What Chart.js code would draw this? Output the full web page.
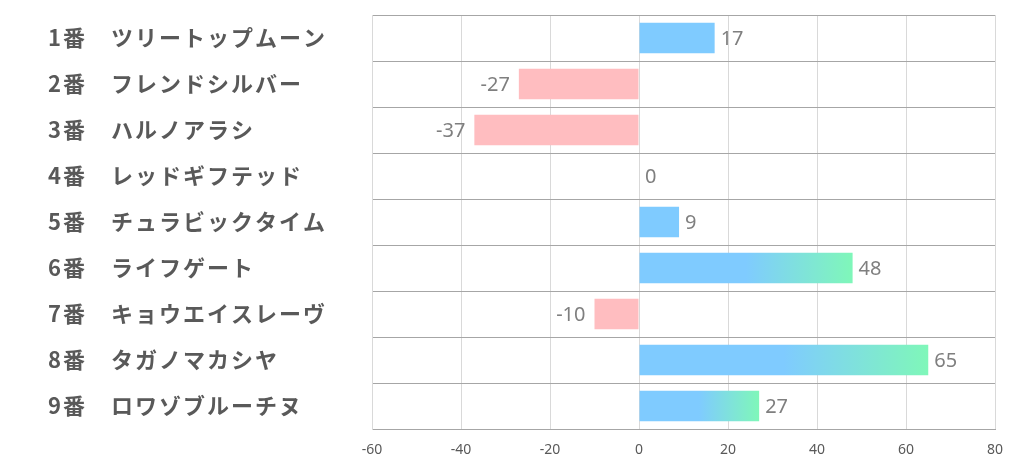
<!DOCTYPE html>
<html>
<head>
<meta charset="utf-8">
<script src="https://cdn.jsdelivr.net/npm/chart.js@4"></script>
<style>
html,body{margin:0;padding:0;background:#fff;}
#wrap{width:1022px;height:470px;}
</style>
</head>
<body>
<div id="wrap"><canvas id="c" width="1022" height="470"></canvas></div>
<script>
const categories = ["1番　ツリートップムーン","2番　フレンドシルバー","3番　ハルノアラシ","4番　レッドギフテッド","5番　チュラビックタイム","6番　ライフゲート","7番　キョウエイスレーヴ","8番　タガノマカシヤ","9番　ロワゾブルーチヌ"];
const values = [17, -27, -37, 0, 9, 48, -10, 65, 27];
const xTicks = [-60, -40, -20, 0, 20, 40, 60, 80];

const BLUE = '#7fcbff', GREEN = '#7ff7b9', PINK = '#ffbdc0';

function barColor(ctx) {
  const v = ctx.raw;
  if (v < 0) return PINK;
  if (v < 20) return BLUE;
  const chart = ctx.chart;
  const xs = chart.scales.x;
  if (!xs) return BLUE;
  const x0 = xs.getPixelForValue(0), x1 = xs.getPixelForValue(v);
  const g = chart.ctx.createLinearGradient(x0, 0, x1, 0);
  g.addColorStop(0, BLUE);
  g.addColorStop(0.5, BLUE);
  g.addColorStop(1, GREEN);
  return g;
}

const spacingPlugin = {
  id: 'yspacing',
  beforeDraw(chart) {
    const ys = chart.scales.y;
    if (ys && !ys._wrapped) {
      const orig = ys.drawLabels;
      ys.drawLabels = function(area) {
        const c = this.ctx;
        c.save();
        c.letterSpacing = '2px';
        orig.call(this, area);
        c.restore();
      };
      ys._wrapped = true;
    }
  }
};

const labelPlugin = {
  id: 'vlabels',
  afterDatasetsDraw(chart) {
    const ctx = chart.ctx;
    const meta = chart.getDatasetMeta(0);
    ctx.save();
    ctx.font = '20px "Noto Sans", "Open Sans", sans-serif';
    ctx.fillStyle = '#7f7f7f';
    ctx.textBaseline = 'middle';
    meta.data.forEach((el, i) => {
      const v = values[i];
      if (v < 0) {
        ctx.textAlign = 'right';
        ctx.fillText(String(v), el.x - 9, el.y + 1);
      } else {
        ctx.textAlign = 'left';
        ctx.fillText(String(v), el.x + 6, el.y + 1);
      }
    });
    ctx.restore();
  }
};

new Chart(document.getElementById('c'), {
  type: 'bar',
  data: {
    labels: categories,
    datasets: [{
      data: values,
      backgroundColor: barColor,
      borderWidth: 0,
      barPercentage: 0.66,
      categoryPercentage: 1
    }]
  },
  options: {
    indexAxis: 'y',
    responsive: false,
    animation: false,
    devicePixelRatio: 1,
    layout: { padding: { top: 15, right: 27, bottom: 0, left: 48 } },
    plugins: { legend: { display: false }, tooltip: { enabled: false } },
    scales: {
      x: {
        min: -60, max: 80,
        afterBuildTicks(scale) { scale.ticks = xTicks.map(v => ({ value: v })); },
        afterFit(scale) { scale.height = 41; },
        grid: { color: '#d9d9d9', drawTicks: false, lineWidth: 1 },
        border: { color: '#a6a6a6', width: 1 },
        ticks: { color: '#595959', padding: 13, font: { size: 14, family: '"Noto Sans", "Open Sans", sans-serif' } }
      },
      y: {
        afterFit(scale) { scale.width = 324; },
        grid: { color: '#a6a6a6', drawTicks: false, offset: true },
        border: { color: '#d9d9d9', width: 1 },
        ticks: { color: '#595959', crossAlign: 'far', padding: 0, font: { size: 22, weight: 'bold', family: '"Noto Sans CJK JP", sans-serif' } }
      }
    }
  },
  plugins: [spacingPlugin, labelPlugin]
});
</script>
</body>
</html>
